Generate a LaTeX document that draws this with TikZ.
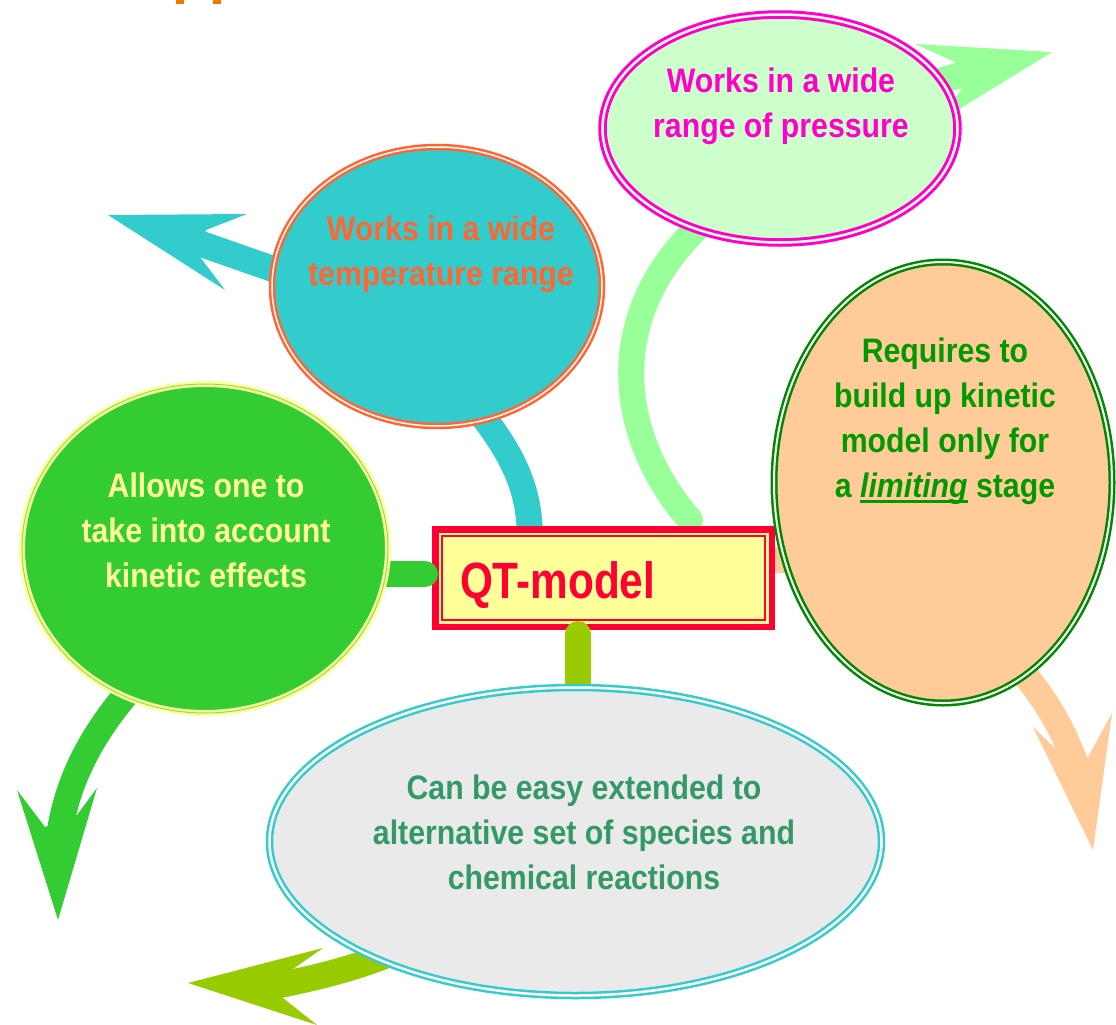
\documentclass[tikz,border=0pt]{standalone}
\usepackage{fontspec}
\setmainfont{Liberation Sans}[FakeStretch=0.89]
\newfontfamily\qtfont{Liberation Sans}[FakeStretch=0.83]
\usetikzlibrary{shapes.geometric}
\definecolor{cy}{HTML}{33CCCC}
\definecolor{orr}{HTML}{FF6633}
\definecolor{lgr}{HTML}{99FF99}
\definecolor{pgfill}{HTML}{CCFFCC}
\definecolor{mag}{HTML}{FF00CC}
\definecolor{peach}{HTML}{FFCC99}
\definecolor{dgr}{HTML}{008800}
\definecolor{tgr}{HTML}{009900}
\definecolor{grn}{HTML}{33CC33}
\definecolor{lyel}{HTML}{FFFF99}
\definecolor{lgray}{HTML}{EAEAEA}
\definecolor{sea}{HTML}{339966}
\definecolor{ygr}{HTML}{99CC00}
\definecolor{qred}{HTML}{FF0033}
\definecolor{topor}{HTML}{F07800}
\pgfdeclarelayer{back}\pgfdeclarelayer{mid}\pgfdeclarelayer{conn}
\pgfsetlayers{back,mid,conn,main}
\newcommand\ulimit[1]{\setbox0\hbox{#1}\rlap{\rule[-5pt]{\wd0}{2.5pt}}\box0\relax}
\tikzset{
 ell/.style={ellipse, inner sep=0pt, line width=2.5pt, double distance=2pt},
 armbody/.style={line width=26pt, line cap=butt},
 connline/.style={line width=26pt, line cap=round},
 eltext/.style={font=\bfseries\fontsize{34}{45}\selectfont, align=center, anchor=north, inner sep=0pt},
 qtbox/.style={rectangle, draw=qred, fill=lyel, line width=6.5pt, outer sep=0pt, inner sep=0pt,
   minimum width=336.5pt, minimum height=97.5pt, text width=287pt, align=left,
   text height=42pt, text depth=2pt, text=qred, font=\qtfont\bfseries\fontsize{51}{60}\selectfont}
}
\begin{document}
\begin{tikzpicture}[x=1pt,y=-1pt]
\useasboundingbox (0,0) rectangle (1116,1025);
% remnants of a cut-off title
\fill[topor] (176,0) rectangle (184,4);
\fill[topor] (213,0) rectangle (221,4);

% ellipses
\node[ell, fill=cy, draw=orr, double=white, double distance=1.5pt, minimum width=330pt, minimum height=279pt] (tempE) at (437,286.5) {};
\node[ell, fill=pgfill, draw=mag, double=white, line width=3pt, double distance=2.5pt, minimum width=355pt, minimum height=228pt] (presE) at (780,128.5) {};
\node[ell, fill=peach, draw=dgr, double=white, minimum width=338pt, minimum height=441pt] (rightE) at (943,482.5) {};
\node[ell, fill=grn, draw=lyel, double=grn!60!lyel, double distance=1pt, minimum width=366pt, minimum height=329pt] (leftE) at (205,548.5) {};
\node[ell, fill=lgray, draw=cy, double=white, double distance=2.5pt, minimum width=612pt, minimum height=308pt] (botE) at (575.5,841.5) {};

% texts
\node[eltext, text=orr] (tempT) at (441,216) {Works in a wide\\temperature range};
\node[eltext, text=mag] (presT) at (781,68) {Works in a wide\\range of pressure};
\node[eltext, text=tgr] (rightT) at (945,338) {Requires to\\build up kinetic\\model only for\\a \ulimit{\textit{limiting}} stage};
\node[eltext, text=lyel] (leftT) at (206,473) {Allows one to\\take into account\\kinetic effects};
\node[eltext, text=sea] (botT) at (584,775) {Can be easy extended to\\alternative set of species and\\chemical reactions};

% central box
\begin{pgfonlayer}{mid}
\node[qtbox] (box) at (603.5,578) {QT-model};
\draw[qred, line width=2pt] ([xshift=6.5pt,yshift=-6.5pt]box.north west) rectangle ([xshift=-6.5pt,yshift=6.5pt]box.south east);
\end{pgfonlayer}

% connectors touching the box from left and below
\begin{pgfonlayer}{conn}
\draw[connline, grn] (380,574) -- (425,574);
\draw[connline, ygr] (578,634) -- (578,700);
\end{pgfonlayer}

% curved arrows and connectors behind everything
\begin{pgfonlayer}{back}
\draw[armbody, cy] (310,282) -- (190,240);
\fill[cy] (108,215) -- (247,214) -- (206,230) -- (200,257) -- (225,290) -- cycle;
\draw[connline, cy] (530,540) .. controls (530,490) and (515,455) .. (470,400);
\draw[connline, lgr] (690,520) .. controls (620,440) and (600,320) .. (700,225) .. controls (780,150) and (880,95) .. (975,71);
\fill[lgr] (1052,52) -- (915,44) -- (955,62) -- (962,89) -- (935,124) -- cycle;
\draw[armbody, peach] (1000,645) .. controls (1035,685) and (1058,715) .. (1076,765);
\fill[peach] (1093,850) -- (1112,713) -- (1088,757) -- (1057,750) -- (1033,727) -- cycle;
\draw[armbody, peach] (760,560) -- (810,560);
\draw[armbody, grn] (150,668) .. controls (100,720) and (70,770) .. (60,830);
\fill[grn] (58,920) -- (17,790) -- (45,827) -- (77,815) -- (97,788) -- cycle;
\draw[armbody, ygr] (430,935) .. controls (380,962) and (330,975) .. (275,986);
\fill[ygr] (188,983) -- (323,948) -- (293,969) -- (283,998) -- (317,1025) -- cycle;
\end{pgfonlayer}
\end{tikzpicture}
\end{document}
